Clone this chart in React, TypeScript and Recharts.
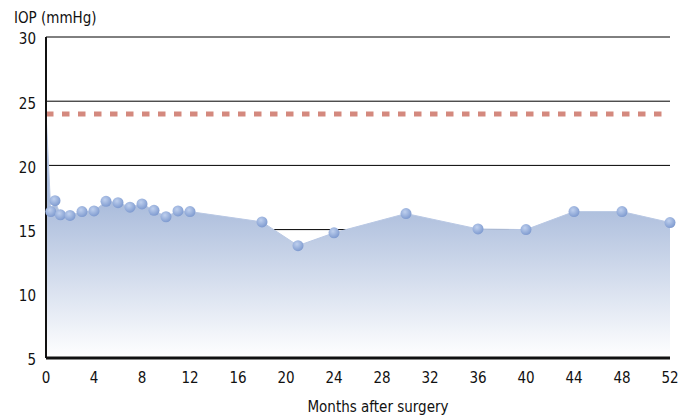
import React from "react";
import {
  ComposedChart,
  Area,
  XAxis,
  YAxis,
  CartesianGrid,
  ReferenceLine,
  Label,
} from "recharts";

const months = [0, 0.4, 0.75, 1.2, 2, 3, 4, 5, 6, 7, 8, 9, 10, 11, 12, 18, 21, 24, 30, 36, 40, 44, 48, 52];
const iop = [24.1, 16.4, 17.25, 16.15, 16.1, 16.4, 16.45, 17.2, 17.1, 16.75, 17.0, 16.5, 16.0, 16.45, 16.4, 15.6, 13.75, 14.75, 16.25, 15.05, 15.0, 16.4, 16.4, 15.55];
const xTicks = [0, 4, 8, 12, 16, 20, 24, 28, 32, 36, 40, 44, 48, 52];
const yTicks = [5, 10, 15, 20, 25, 30];
const targetIop = 24;

const data = months.map((m, i) => ({ month: m, iop: iop[i] }));

const font = "'Liberation Sans Narrow', 'DejaVu Sans Condensed', 'Noto Sans', sans-serif";

// first value has no marker in the original
const renderDot = (props: any) => {
  const { cx, cy, index } = props;
  if (index === 0) return <g key={`d${index}`} />;
  return <circle key={`d${index}`} cx={cx} cy={cy} r={5.5} fill="url(#dotFill)" />;
};

export default function App() {
  return (
    <div style={{ position: "absolute", left: 0, top: 0 }}>
      <svg width={0} height={0} style={{ position: "absolute" }}>
        <defs>
          <linearGradient id="areaFill" gradientUnits="userSpaceOnUse" x1="0" y1="200" x2="0" y2="358">
            <stop offset="0" stopColor="#a9bbdb" />
            <stop offset="1" stopColor="#ffffff" />
          </linearGradient>
          <radialGradient id="dotFill" cx="0.4" cy="0.35" r="0.65">
            <stop offset="0" stopColor="#bfd0ee" />
            <stop offset="1" stopColor="#7f9bd0" />
          </radialGradient>
        </defs>
      </svg>
      <ComposedChart
        width={697}
        height={418}
        data={data}
        margin={{ top: 37, right: 27, left: 0, bottom: 30 }}
      >
        <CartesianGrid vertical={false} stroke="#000" strokeWidth={1} />
        <XAxis
          dataKey="month"
          type="number"
          domain={[0, 52]}
          ticks={xTicks}
          interval={0}
          height={30}
          tickLine={false}
          tickSize={0}
          tickMargin={14}
          axisLine={{ stroke: "#111", strokeWidth: 3 }}
          tick={{ fontSize: 15, fill: "#111", fontFamily: font }}
        >
          <Label
            value="Months after surgery"
            position="insideBottom"
            offset={-24}
            dx={20}
            style={{ fontSize: 15, fill: "#111", fontFamily: font }}
          />
        </XAxis>
        <YAxis
          type="number"
          domain={[5, 30]}
          ticks={yTicks}
          width={46}
          tickLine={false}
          tickSize={0}
          tickMargin={10}
          axisLine={{ stroke: "#111", strokeWidth: 2 }}
          tick={{ fontSize: 15, fill: "#111", fontFamily: font, dy: 2 }}
        />
        <Area
          type="linear"
          dataKey="iop"
          stroke="#b9c8e4"
          strokeWidth={1}
          fill="url(#areaFill)"
          fillOpacity={1}
          dot={renderDot}
          activeDot={false}
          isAnimationActive={false}
        />
        <ReferenceLine
          y={targetIop}
          stroke="#d4897e"
          strokeWidth={5}
          strokeDasharray="7.5 8.5"
        />
        <text x={14} y={23} fontSize={15} fill="#111" fontFamily={font}>
          IOP (mmHg)
        </text>
      </ComposedChart>
    </div>
  );
}
